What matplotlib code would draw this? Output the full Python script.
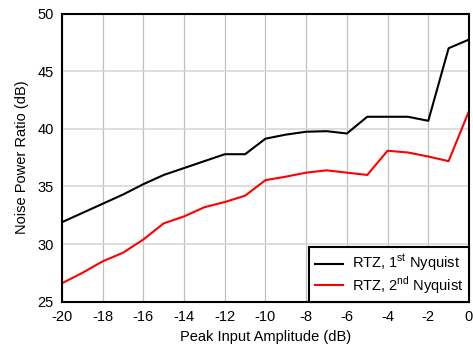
import numpy as np
import matplotlib
matplotlib.use('Agg')
import matplotlib.pyplot as plt

plt.rcParams['font.family'] = ['Liberation Sans', 'DejaVu Sans']
plt.rcParams['mathtext.fontset'] = 'custom'
plt.rcParams['mathtext.rm'] = 'Liberation Sans'
plt.rcParams['axes.unicode_minus'] = False

# Peak input amplitude [dB]
amp = np.arange(-20, 1)
# Noise power ratio [dB]
npr_1st = [31.9, 32.7, 33.5, 34.3, 35.2, 36.0, 36.6, 37.2, 37.8, 37.8, 39.15,
           39.5, 39.75, 39.8, 39.6, 41.05, 41.05, 41.05, 40.7, 47.0, 47.75]
npr_2nd = [26.6, 27.5, 28.5, 29.25, 30.4, 31.8, 32.4, 33.2, 33.65, 34.2, 35.55,
           35.85, 36.2, 36.4, 36.2, 36.0, 38.1, 37.95, 37.6, 37.2, 41.55]
labels = ['RTZ, 1$^{\\rm st}$ Nyquist', 'RTZ, 2$^{\\rm nd}$ Nyquist']

fig = plt.figure(figsize=(4.73, 3.5), dpi=100)
ax = fig.add_axes([0.131, 0.138, 0.8605, 0.823])

ax.plot(amp, npr_1st, '-', color='black', lw=1.5, label=labels[0])
ax.plot(amp, npr_2nd, '-', color='#ff0000', lw=1.5, label=labels[1])

ax.set_xlim(-20, 0)
ax.set_ylim(25, 50)
ax.set_xticks(np.arange(-20, 1, 2))
ax.set_yticks(np.arange(25, 51, 5))
ax.xaxis.grid(True, color='#c0c0c0', lw=0.9)
ax.yaxis.grid(True, color='#d8d8d8', lw=1.2)
ax.set_axisbelow(True)
ax.tick_params(length=0, labelsize=10.5, pad=6)
for s in ax.spines.values():
    s.set_linewidth(1.5)
    s.set_color('black')

ax.set_xlabel('Peak Input Amplitude (dB)', fontsize=10.5, labelpad=4)
ax.set_ylabel('Noise Power Ratio (dB)', fontsize=10.5, labelpad=6)

leg = ax.legend(loc='lower right', fontsize=10.5, frameon=True, fancybox=False,
                borderaxespad=0, handlelength=1.9, handletextpad=0.6,
                labelspacing=0.0, borderpad=0.4)
leg.get_frame().set_edgecolor('black')
leg.get_frame().set_linewidth(1.5)
leg.get_frame().set_alpha(1)

fig.savefig('out.png', dpi=100)
